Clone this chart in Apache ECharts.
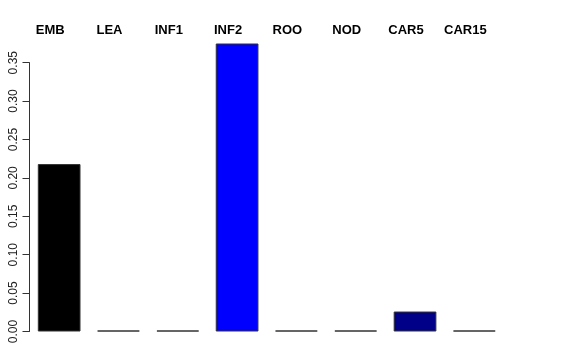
<!DOCTYPE html>
<html>
<head>
<meta charset="utf-8">
<script src="https://cdn.jsdelivr.net/npm/echarts@6/dist/echarts.min.js"></script>
<style>html,body{margin:0;padding:0;background:#fff}#c{width:576px;height:360px}</style>
</head>
<body>
<div id="c"></div>
<script>
var categories = ['EMB', 'LEA', 'INF1', 'INF2', 'ROO', 'NOD', 'CAR5', 'CAR15'];
var values = [0.218, 0, 0, 0.375, 0, 0, 0.026, 0];
var barColors = ['#000000', '#ffffff', '#ffffff', '#0000ff', '#ffffff', '#ffffff', '#000088', '#ffffff'];
var yTicks = [0, 0.05, 0.10, 0.15, 0.20, 0.25, 0.30, 0.35];

var chart = echarts.init(document.getElementById('c'), null, {renderer: 'canvas'});
chart.setOption({
  animation: false,
  backgroundColor: '#ffffff',
  grid: {left: 29.5, right: 72, top: 62.7, bottom: 28.5, containLabel: false},
  xAxis: {
    type: 'category',
    position: 'top',
    data: categories,
    axisLine: {show: false},
    axisTick: {show: false},
    axisLabel: {
      interval: 0,
      margin: 26,
      fontFamily: 'Liberation Sans',
      fontWeight: 'bold',
      fontSize: 13,
      color: '#000',
      padding: [0, 18, 0, 0]
    }
  },
  yAxis: {
    type: 'value',
    min: 0,
    max: 0.35,
    interval: 0.05,
    splitLine: {show: false},
    axisLine: {show: true, lineStyle: {color: '#333', width: 1}},
    axisTick: {show: true, length: 7, lineStyle: {color: '#333', width: 1}},
    axisLabel: {
      rotate: 90,
      margin: 10,
      fontFamily: 'Liberation Sans',
      fontSize: 12,
      color: '#222',
      formatter: function (v) {
        for (var i = 0; i < yTicks.length; i++) {
          if (Math.abs(yTicks[i] - v) < 1e-9) return yTicks[i].toFixed(2);
        }
        return '';
      }
    }
  },
  series: [{
    type: 'bar',
    clip: false,
    barWidth: '72%',
    barMinHeight: 1,
    data: values.map(function (v, i) {
      return {value: v, itemStyle: {color: barColors[i]}};
    }),
    itemStyle: {borderColor: '#333', borderWidth: 1}
  }]
});
</script>
</body>
</html>
